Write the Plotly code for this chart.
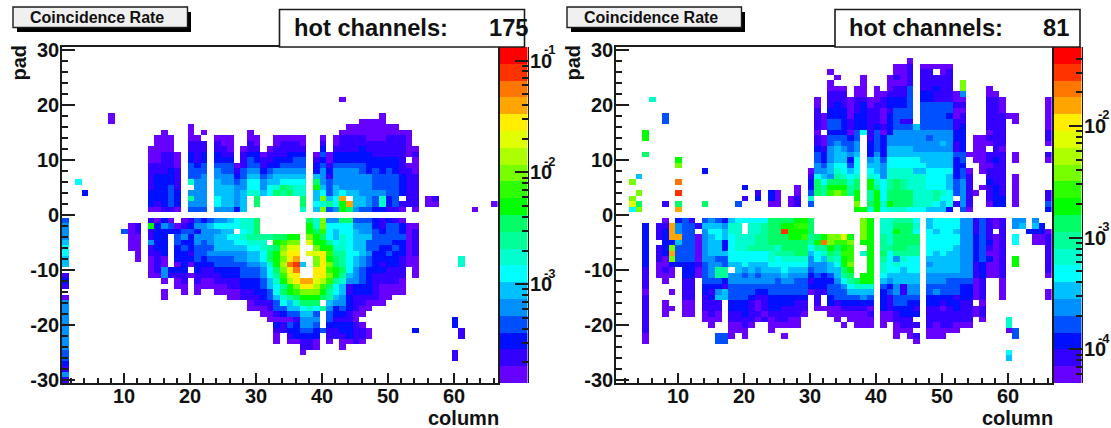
import math
import plotly.graph_objects as go

W, H = 1111, 428
CODES = "0123456789abcdefghij"
PALETTE = ["#6600FF", "#3300FF", "#0010FF", "#0050FF", "#0090FF", "#00C0FF", "#00FFFF", "#00FFCC", "#00FF99", "#00FF66",
           "#00FF00", "#2EFF00", "#77FF00", "#ADFF00", "#E0FF00", "#FFEE00", "#FFA500", "#FF7700", "#FF3300", "#FF0000"]
X_TICKS = [10, 20, 30, 40, 50, 60]
Y_TICKS = [30, 20, 10, 0, -10, -20, -30]
Y_LABELS = ["30", "20", "10", "0", "-10", "-20", "-30"]
LEFT_RANGE = (-3.884, -0.878)
RIGHT_RANGE = (-4.30, -1.294)
LEFT_DECADES = [-1, -2, -3]
RIGHT_DECADES = [-2, -3, -4]
LEFT_HOT = "175"
RIGHT_HOT = "81"

# pad -> "firstColumnIndex:levelCodes" segments
LEFT_ROWS = {
 21: "42:0",
 18: "7:0 48:0",
 17: "7:0 45:0000",
 16: "19:0 43:0000000 50:0",
 15: "15:0 19:0 21:0 28:0 42:00000000000",
 14: "14:000 19:00 23:000 28:00 32:00000 39:0 41:011110001110",
 13: "14:000 19:111 23:100 28:10 32:01110 39:1 41:011111111110",
 12: "13:0000 19:111 23:110 27:011 31:0 32:11111 39:2 41:11112111111 52:00",
 11: "13:00110 19:212 23:211 27:1 28:22 30:0 31:1 32:11222 38:030 41:222222 47:1111 51:101",
 10: "13:00110 19:212 23:222 27:1 28:32 30:1 31:1 32:22233 38:120 41:222222 47:2222 51:1 53:0",
 9: "13:11110 19:323 23:333 26:0 27:1 28:33 30:1 31:2 32:23333 38:231 41:33333 46:22222 51:1 52:00",
 8: "13:11121 19:333 23:433 26:1 27:3 28:44 30:2 31:3 32:44444 38:242 41:44443 46:23232 51:11 53:0",
 7: "13:12221 19:334 23:444 26:2 27:3 28:55 30:3 31:4 32:55555 38:541 41:4444 45:44 47:3333 51:2 52:11",
 6: "2:6 13:12221 19:744 23:544 26:3 27:4 28:66 30:4 31:5 32:56666 38:943 41:444444 47:3333 51:2 52:11",
 5: "13:12231 20:44 23:555 26:4 27:4 28:66 30:4 31:6 32:79877 38:a53 41:544444 47:3333 51:2 52:11",
 4: "3:2 13:22232 19:444 23:555 26:4 27:5 28:77 30:5 31:6 32:98977 38:563 41:565544 47:44 49:33 51:2 52:11",
 3: "13:22232 19:844 23:655 26:4 27:5 29:9 36:9 38:5c5 41:6g 44:55 46:4 47:3 48:7 49:2 50:3 52:11 55:01",
 2: "13:21232 19:444 23:655 26:4 27:5 29:9 36:9 38:678 41:6ag 44:55 46:4 47:3 48:7 49:2 50:3 51:111 55:00 65:0",
 1: "13:00110 19:333 23:444 26:2 27:5 36:7 38:5c3 41:4a9 44:4 45:33 47:22 49:11 51:0 53:0 62:0",
 -1: "0:3 13:1020 18:01323 23:44 25:5 26:6 27:77 29:9 37:97c 40:44 42:99 44:333 47:2 48:1 49:2 50:1 51:0",
 -2: "0:4 10:01 13:a243012 20:44 22:5 23:666 26:6 27:77 29:9 37:a7c 40:6666 44:444 47:2 48:1 49:33 51:2 52:00",
 -3: "0:4 9:301 13:12222332 21:444 24:55 27:67 29:9 37:a9b 40:6566 44:5 45:44 47:3 48:2 49:33 51:2 52:01",
 -4: "0:4 10:00 13:122 17:34 19:2 20:444 23:55 25:66 27:7 28:8888 32:99aa 37:ca9 40:6576 44:555 47:3333 51:3 52:01",
 -5: "0:5 10:00 13:422 17:322 20:434 23:555 26:66 28:777 32:abcc 37:eaa 40:8 41:676 44:55 46:3333 50:22 52:01",
 -6: "0:6 10:00 13:122 17:232 20:333 23:555 26:55 28:66 30:7 31:8 32:9cee 38:caa 41:776 44:55 46:33 48:22 50:32 52:01",
 -7: "0:6 11:0 13:112 17:221 20:33 22:444 25:444 28:55 30:6 31:9 32:adff 37:eef 40:b88 43:66 45:5 46:4 47:22 49:3 50:22 52:01",
 -8: "0:5 11:0 13:010 17:222 20:323 23:333 26:44 28:55 30:6 31:9 32:acfg 38:cfa 41:98 43:6 44:5 45:4 46:3 47:222 50:2 51:1 52:00 60:7",
 -9: "0:5 13:010 17:020 20:222 23:3333 27:3 28:44 30:5 31:7 32:adhi5 38:cfc 41:98 43:6 44:5 45:4 46:3 47:2 48:1 49:22 51:1 52:00 60:7",
 -10: "13:0142 17:22 20:2 21:11 23:222 26:2 27:333 30:4 31:6 32:9cfh 38:ffb 41:a9 43:6 44:4 45:3 46:222 49:111 53:0",
 -11: "0:1 13:004 16:111 19:0 20:1 21:111 24:222 27:33 29:3 30:4 31:6 32:8bef 38:ffc 41:a8 43:5 44:4 45:3 46:2 47:1 48:11 50:1 51:1 53:0",
 -12: "0:2 15:0 17:01 20:1 21:00 23:11 25:11 27:22 29:2 30:3 31:5 32:7adfgg 38:edb 41:87 43:4 44:4 45:3 46:2 47:1 48:111 51:0",
 -13: "0:1 17:00 20:000 23:00 25:11 27:22 29:2 30:3 31:5 32:68acff 38:db9 41:65 43:1 44:222 47:1 48:0000",
 -14: "15:0 18:0 20:0 23:000 26:0 27:11 29:2 30:2 31:3 32:69abcc 38:ca8 41:65 43:1 44:222 47:1 48:0000",
 -15: "0:0 15:0 25:00 27:11 29:1 30:2 31:3 32:5789aa 38:a98 41:54 43:2 44:1 45:111 48:00",
 -16: "0:4 28:0 29:11 31:1 32:365799 38:9 40:544 43:2 44:11 46:000",
 -17: "0:4 28:0 29:00 31:1 32:335567 38:6 39:8 40:423 43:2 44:1 45:00",
 -18: "0:4 30:00 32:123355 38:3 40:322 43:1 44:00",
 -19: "0:4 31:0 32:000144 38:4 40:311 43:1 44:0 59:2",
 -20: "0:4 32:213244 38:3 40:2222 44:1 45:0 59:2",
 -21: "0:4 32:112233 38:23 40:11 42:22 44:11 46:0 53:2 60:1",
 -22: "0:4 32:0 34:12222 40:111 43:2 44:11 46:0 60:1",
 -23: "0:4 32:0 34:00 36:110 40:0 42:00 44:1 45:0",
 -24: "0:4 36:110 42:0",
 -25: "0:3 36:0 59:1",
 -26: "0:3 59:1",
 -27: "0:2",
 -28: "0:1",
 -29: "0:4",
 -30: "0:1",
}

RIGHT_ROWS = {
 28: "44:0",
 27: "42:00 44:1 46:00000",
 26: "32:0 42:00 44:1 46:11 49:01",
 25: "33:0 37:0 41:010 44:1 46:11111",
 24: "32:0 37:0 41:000 44:1 46:11111 52:c",
 23: "32:0 33:00 36:00 39:0 41:011 44:3 46:11211 52:c 56:0",
 22: "32:111 36:00 39:00 41:111 44:3 46:22111 51:0 52:4 56:00",
 21: "5:7 30:0 32:1 33:110 36:11 38:00 40:1 41:222 44:3 46:22111 51:00 56:110 65:0",
 20: "30:0 32:1 33:210 36:12 38:0 39:11 41:222 44:3 46:33333 51:11 56:110 65:0",
 19: "30:1 32:2 33:220 36:12 38:1 39:1 40:0 41:1 42:333 46:33333 51:00 56:110 65:0",
 18: "7:3 30:1 31:0 32:2 33:220 36:22 38:11 40:0 41:2 42:333 46:33332 51:01 56:11 58:1 59:00 65:0",
 17: "7:3 30:1 31:0 32:3 33:321 36:22 38:11 40:0 41:2 42:3 43:11 46:33333 51:11 56:111 60:0 65:0",
 16: "30:1 31:0 32:3 33:321 36:22 38:12 40:1 41:2 42:333 45:5 46:33333 51:12 56:111 65:0",
 15: "4:a 30:0 32:2 33:2 34:20 36:36 38:130 41:2 42:44444 47:4444 51:22 56:011 65:1",
 14: "4:a 30:1 31:0 32:3 33:33 35:23 38:1 39:32 41:4 42:4444 46:4 47:3 48:444 51:22 54:00 56:111 65:1",
 13: "30:1 31:0 32:3 33:433 36:4 38:232 41:44444 46:44454 51:12 54:000 57:11 65:0",
 12: "30:2 31:1 32:4 33:5 34:434 38:232 41:55554 46:44444 51:12 54:00 57:10",
 11: "4:9 30:3 31:2 32:4 33:5 34:545 38:242 41:55555 46:55555 51:33 53:000 56:111 60:0 65:1",
 10: "9:a 30:3 31:2 32:4 33:5 34:526 38:453 41:66666 46:55555 51:23 54:00 56:121 60:0 65:0",
 9: "9:c 30:4 31:3 32:5 33:6 34:636 38:554 41:66666 46:65555 51:22 55:00 57:11",
 8: "13:2 29:0 30:4 31:4 32:5 33:7 34:656 38:654 41:7777 45:5 46:56666 51:23 53:0 55:0 56:111",
 7: "3:5 29:1 30:6 31:5 32:4 33:8 34:767 38:764 41:7777 45:77 47:666 50:5 51:23 53:1 56:111 60:0",
 6: "2:c 9:h 29:2 30:9 31:6 32:9 33:9 34:979 38:a76 41:898 44:777 47:666 50:5 51:34 53:1 56:211 60:0",
 5: "19:2 27:0 29:2 30:9 31:8 32:a 33:a 34:a89 38:a86 41:898 44:777 47:666 50:5 51:34 53:1 55:0 56:121 60:0",
 4: "3:c 9:i 21:1 23:2 24:0 27:0 29:3 30:9 31:8 32:b 33:c 34:b8a 38:8a6 41:9999 45:777 48:876 51:34 53:1 54:0 56:121 60:0 65:1",
 3: "2:c 19:1 21:2 23:2 24:0 26:0 27:1 29:7 36:a 38:8a6 41:9999 45:777 48:866 52:4 53:1 56:122 60:0 65:1",
 2: "2:e 3:9 7:1 9:9 13:9 18:3 23:00 26:0 27:1 29:3 36:c 38:9a7 41:a999 45:777 48:656 51:1 52:4 53:1 56:0 57:22 60:0 65:3",
 1: "2:6 3:c 9:g 36:aa 38:7a6 41:777 44:66 46:655 49:52 52:3 53:0 65:2",
 -1: "7:0 9:231 13:3432 17:5 18:66666 23:9999 27:aa 29:9 37:ca 40:778 43:88 45:6 47:56666 52:44 54:13101 60:44 63:4",
 -2: "4:2 6:11 8:g 9:4 10:33 12:1 13:555 16:4 17:77 20:77 22:8 23:99 25:aa 27:bb 29:9 37:ca 40:779 43:99 45:7 47:56666 52:44 54:13101 60:45 63:5 64:2",
 -3: "4:2 6:12 8:g 9:4 10:33 13:4 14:66 16:5 17:77 20:77 22:8 23:99 25:i 26:a 27:aa 29:9 37:ca 40:77a 43:99 45:6 47:65665 52:44 54:131 58:1 62:222 65:0",
 -4: "4:2 6:12 8:gg 10:33 12:0 13:4565 17:6 18:777 21:88 23:99 25:9 26:a 27:ab 29:8 30:9a 32:c 33:cea 37:ca 40:879 43:99 45:9 47:66666 52:44 54:2310 58:1 60:6 63:00 65:1",
 -5: "4:2 7:22 9:5 10:33 12:0 13:4 14:55 16:2 17:6 18:777 21:88 23:99 25:999 28:9 29:8 30:ah 32:c 33:bbc 37:aa 40:879 43:99 45:9 47:66666 52:44 54:2320 58:1 60:6 63:00 65:1",
 -6: "4:2 6:12 8:c 9:3 10:33 12:0 13:4 14:55 16:2 17:6 18:77 20:88 22:88 24:7 25:9999 29:6 30:88 32:a 33:9ab 38:a 40:889 43:9 44:88 47:66665 52:44 54:2310 58:1 65:1",
 -7: "4:2 6:12 8:g 9:3 10:33 12:0 13:4 14:555 17:6 18:666 21:66 23:7 24:8 25:88 27:99 29:5 30:67 32:9 33:8bb 37:7a 40:968 43:888 47:65655 52:44 54:2300 58:1 65:1",
 -8: "4:2 6:10 8:c 9:333 12:0 13:4 14:433 17:6 18:666 21:66 23:7 24:6 25:7 26:777 29:4 30:65 32:8 33:7ab 38:a 40:864 43:7 44:66 47:55555 52:44 54:2320 58:1 60:a 65:1",
 -9: "4:2 6:00 8:2222 12:1 13:3 14:443 17:55 19:6 20:555 23:666666 29:4 30:44 32:5 33:6ac 38:a 40:767 43:6 44:66 47:45555 52:44 54:1200 58:1 60:a 65:1",
 -10: "4:1 6:010 10:22 12:0 13:3 14:4 15:88 18:5 19:4 20:5 21:4 22:5 23:55 25:6 26:5 27:55 29:3 30:44 32:5 33:59a 38:a 40:766 43:5 44:66 47:55555 52:44 54:1200 58:1 65:1",
 -11: "4:1 6:000 10:22 12:0 13:3 14:4 15:88 17:44 19:3 20:4 21:3 22:4 23:44 25:5 26:4 27:44 29:2 30:32 32:3 33:589 37:aa 40:655 43:5 44:55 47:44444 52:44 54:1200 58:1 65:0",
 -12: "4:1 7:0 10:11 13:3 14:33 16:2 17:4 18:444 21:444 24:3 25:44 27:33 29:1 30:22 32:2 33:4689aa 40:545 43:555 47:444 50:3 51:333 54:01 58:0",
 -13: "4:1 10:11 13:2 14:221 17:333 20:3333 24:33333 29:2 30:22 32:3 33:346777 40:324 43:1 44:44 47:333 50:33 52:22 54:01 58:0",
 -14: "4:0 8:0 10:11 13:2 14:1 15:4 16:5 17:333 20:3 21:22 23:3333 27:33 29:0 30:1 31:1 32:3 33:335555 40:234 43:1 44:44 47:343 50:33 52:22 54:01 58:0 65:0",
 -15: "4:1 10:11 13:1 14:2 15:55 17:33 19:3 20:2 21:11 23:22 25:2 26:22 28:2 30:1 32:2 33:333343 40:21 42:3333 47:22 49:22 51:1 52:22 54:01 58:0 65:0",
 -16: "4:1 7:0 10:00 13:111 17:222 20:1 21:0 22:1 23:22 25:22 27:11 30:1 32:2 33:122222 40:21 42:3322 47:22 49:1 50:2 51:2 52:11 55:0",
 -17: "4:1 7:00 10:00 13:111 17:222 20:1 21:01 23:22 25:1 26:111 30:00 32:0 33:011110 40:212 43:22 45:1 47:11 49:0 50:1 51:2 52:11 54:01",
 -18: "4:1 7:0 10:00 13:010 17:11 19:2 20:11 22:0 23:111 26:1 27:1 28:0 32:0 33:000001 40:00 42:1 43:22 45:2 47:11111 52:11 54:01",
 -19: "4:1 13:000 17:1 18:1 19:1 20:1 21:0 22:1 23:0 24:11 26:00 33:0 35:0000 40:00 42:11 44:1 47:11111 52:11 55:0 59:7",
 -20: "4:1 14:0 17:00 19:1 20:0 23:0 24:0000 34:0 36:000 40:0 42:0 43:111 47:1 48:0 49:11 51:000 59:7",
 -21: "4:1 17:000 23:0 42:000 47:00000 59:0 60:3",
 -22: "4:0 15:33 17:0 19:0 25:0 42:0 44:01 47:000 60:3",
 -23: "4:0 15:33 45:0",
 -25: "59:6",
 -26: "59:5",
}


def build_z(rows, vrange):
    lo, hi = vrange
    step = (hi - lo) / 20
    grid = [[None] * 66 for _ in range(61)]
    for pad, text in rows.items():
        for seg in text.split():
            start, codes = seg.split(":")
            for i, ch in enumerate(codes):
                grid[pad + 30][int(start) + i] = lo + (CODES.index(ch) + 0.5) * step
    return grid


def stepped():
    scale = []
    for i, c in enumerate(PALETTE):
        scale += [[i / 20, c], [(i + 1) / 20, c]]
    return scale


FONT = "Liberation Sans"
INK = "#1c1c1c"
fx = lambda px: px / W
fy = lambda px: 1 - px / H
PLOT_L, PLOT_R, TOP, BOTTOM = 62.0, 497.6, 47.0, 383.0
SHIFT = 554.0
CB_L, CB_R = 500.0, 527.5

fig = go.Figure()
# dx, rows, range, decades, hot text, axis suffix, hot box left/right, hot label left, hot value right
panels = [(0.0, LEFT_ROWS, LEFT_RANGE, LEFT_DECADES, LEFT_HOT, "", 279.5, 524.5, 291.5, 530.5),
          (SHIFT, RIGHT_ROWS, RIGHT_RANGE, RIGHT_DECADES, RIGHT_HOT, "2", 835.0, 1080.0, 846.5, 1071.0)]
col_x = [k + 1.1 for k in range(66)]
pad_y = list(range(-30, 31))
shapes, annotations = [], []
for n, (dx, rows, vr, decades, hot, s1, box_l, box_r, hot_l, hot_r) in enumerate(panels):
    cb_n = str(3 + n)
    fig.add_trace(go.Heatmap(x=col_x, y=pad_y, z=build_z(rows, vr), zmin=vr[0], zmax=vr[1], colorscale=stepped(),
                             showscale=False, hoverongaps=False, xaxis="x" + s1, yaxis="y" + s1))
    step = (vr[1] - vr[0]) / 20
    bands = [vr[0] + (i + 0.5) * step for i in range(20)]
    fig.add_trace(go.Heatmap(x=[0], y=bands, z=[[b] for b in bands], zmin=vr[0], zmax=vr[1], colorscale=stepped(),
                             showscale=False, xaxis="x" + cb_n, yaxis="y" + cb_n))
    axis_common = dict(showline=True, linecolor=INK, linewidth=1.6, mirror=True, showgrid=False, zeroline=False,
                       ticks="inside", tickcolor=INK, tickwidth=1.6,
                       tickfont=dict(family=FONT, size=20, color="#111111", weight="bold"))
    fig.layout["xaxis" + s1] = dict(domain=[fx(PLOT_L + dx), fx(PLOT_R + dx)], range=[0.6, 66.6], anchor="y" + s1,
                                    tickmode="array", tickvals=X_TICKS, ticktext=[str(t) for t in X_TICKS], ticklen=10,
                                    ticklabelstandoff=-6,
                                    minor=dict(dtick=2, tick0=0, ticks="inside", ticklen=5, tickcolor=INK, tickwidth=1.6),
                                    **axis_common)
    fig.layout["yaxis" + s1] = dict(domain=[fy(BOTTOM), fy(TOP)], range=[-30.5, 30.5], anchor="x" + s1,
                                    tickmode="array", tickvals=Y_TICKS, ticktext=Y_LABELS, ticklen=13,
                                    ticklabelstandoff=-3,
                                    minor=dict(dtick=2, tick0=0, ticks="inside", ticklen=6, tickcolor=INK, tickwidth=1.6),
                                    **axis_common)
    minors = [d + math.log10(m) for d in range(-6, 1) for m in range(2, 10) if vr[0] < d + math.log10(m) < vr[1]]
    fig.layout["xaxis" + cb_n] = dict(domain=[fx(CB_L + dx), fx(CB_R + dx)], visible=False, anchor="y" + cb_n,
                                      range=[-0.5, 0.5], fixedrange=True)
    fig.layout["yaxis" + cb_n] = dict(domain=[fy(BOTTOM), fy(TOP)], range=list(vr), anchor="x" + cb_n, side="right",
                                      showline=True, linecolor=INK, linewidth=1, showgrid=False, zeroline=False,
                                      ticks="inside", ticklen=13, tickwidth=1.6, tickcolor=INK,
                                      tickmode="array", tickvals=decades, showticklabels=False,
                                      minor=dict(tickmode="array", tickvals=minors, ticks="inside", ticklen=6,
                                                 tickcolor=INK, tickwidth=1.6))
    shapes.append(dict(type="rect", xref="paper", yref="paper", x0=fx(17 + dx), x1=fx(191 + dx), y0=fy(32), y1=fy(12),
                       fillcolor="black", line=dict(width=0)))
    shapes.append(dict(type="rect", xref="paper", yref="paper", x0=fx(13 + dx), x1=fx(187.5 + dx), y0=fy(27.5), y1=fy(7),
                       fillcolor="#f0f0f0", line=dict(color=INK, width=1.4)))
    shapes.append(dict(type="rect", xref="paper", yref="paper", x0=fx(box_l), x1=fx(box_r), y0=fy(47), y1=fy(9.5),
                       fillcolor="white", line=dict(color=INK, width=1.6)))
    text_font = dict(family=FONT, color="#111111", weight="bold")
    annotations += [
        dict(text="Coincidence Rate", x=fx(96.5 + dx), y=fy(17), xref="paper", yref="paper", xanchor="center", yanchor="middle",
             showarrow=False, font=dict(size=16, **text_font)),
        dict(text="hot channels:", x=fx(hot_l), y=fy(28), xref="paper", yref="paper", xanchor="left", yanchor="middle",
             showarrow=False, font=dict(size=23.7, **text_font)),
        dict(text=hot, x=fx(hot_r), y=fy(28), xref="paper", yref="paper", xanchor="right", yanchor="middle",
             showarrow=False, font=dict(size=23.7, **text_font)),
        dict(text="pad", x=fx(18.5 + dx), y=fy(43), xref="paper", yref="paper", xanchor="center", yanchor="top",
             textangle=-90, showarrow=False, font=dict(size=20, **text_font)),
        dict(text="column", x=fx(501 + dx), y=fy(418), xref="paper", yref="paper", xanchor="right", yanchor="middle",
             showarrow=False, font=dict(size=20, **text_font)),
    ]
    for d in decades:
        annotations.append(dict(text="10", x=fx(527.5 + dx), y=d, xref="paper", yref="y" + cb_n, xanchor="left", yanchor="middle",
                                showarrow=False, font=dict(size=20, **text_font)))
        annotations.append(dict(text=str(d), x=fx(542 + dx), y=d, xref="paper", yref="y" + cb_n, xanchor="left", yanchor="middle",
                                yshift=11, showarrow=False, font=dict(size=13, **text_font)))

fig.update_layout(width=W, height=H, autosize=False, margin=dict(l=0, r=0, t=0, b=0, autoexpand=False), paper_bgcolor="white",
                  plot_bgcolor="white", shapes=shapes, annotations=annotations, showlegend=False)
fig.write_html("out.html", config=dict(displayModeBar=False), post_script="document.body.style.margin='0';")
